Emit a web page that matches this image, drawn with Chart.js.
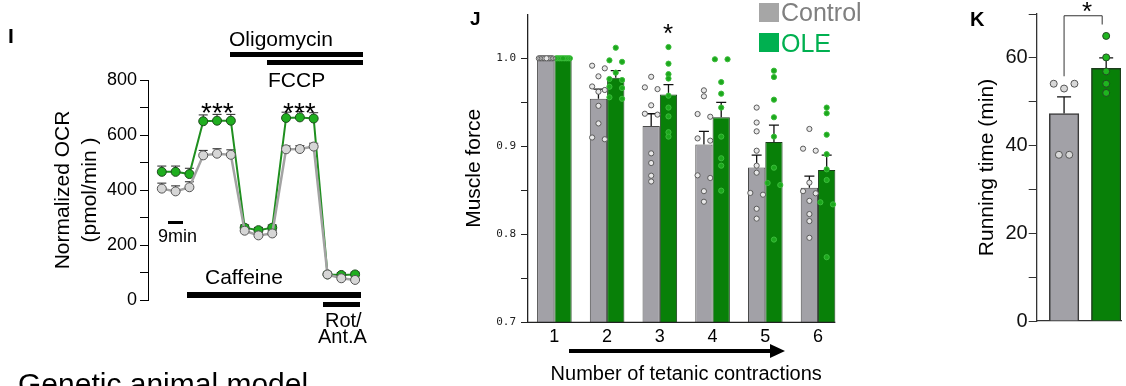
<!DOCTYPE html>
<html>
<head>
<meta charset="utf-8">
<script src="https://cdn.jsdelivr.net/npm/chart.js@4.4.0/dist/chart.umd.min.js"></script>
<style>
  html, body { margin: 0; padding: 0; background: #fff; }
  #fig { position: relative; width: 1126px; height: 386px; overflow: hidden;
         font-family: "Liberation Sans", Arial, sans-serif; color: #000; }
  #fig canvas { position: absolute; top: 0; }
  .t { position: absolute; white-space: nowrap; line-height: 1; }
  .b { position: absolute; background: #000; }
</style>
</head>
<body>
<div id="fig">
  <canvas id="chartI" width="380" height="386" style="left:0"></canvas>
  <canvas id="chartJ" width="420" height="386" style="left:440px"></canvas>
  <canvas id="chartJdots" width="420" height="386" style="left:440px"></canvas>
  <canvas id="chartK" width="186" height="386" style="left:940px"></canvas>

  <!-- panel I annotations -->
  <div class="t" style="left:8px;top:25px;font-size:21px;font-weight:bold">I</div>
  <div class="t" style="left:229px;top:28px;font-size:21px">Oligomycin</div>
  <div class="b" style="left:230px;top:52px;width:133px;height:5px"></div>
  <div class="b" style="left:267px;top:60px;width:96px;height:5px"></div>
  <div class="t" style="left:268px;top:69px;font-size:21px">FCCP</div>
  <div class="t" style="left:201px;top:99px;font-size:28px">***</div>
  <div class="t" style="left:283px;top:99px;font-size:28px">***</div>
  <div class="b" style="left:168px;top:221px;width:15px;height:3px"></div>
  <div class="t" style="left:158px;top:227px;font-size:18px">9min</div>
  <div class="t" style="left:205px;top:266px;font-size:21px">Caffeine</div>
  <div class="b" style="left:187px;top:292px;width:174px;height:6px"></div>
  <div class="b" style="left:323px;top:302px;width:37px;height:5px"></div>
  <div class="t" style="left:325px;top:310px;font-size:20px">Rot/</div>
  <div class="t" style="left:318px;top:326px;font-size:20px">Ant.A</div>
  <div class="t" style="left:18px;top:369px;font-size:30px">Genetic animal model</div>

  <!-- panel J annotations -->
  <div class="t" style="left:470px;top:9px;font-size:19px;font-weight:bold">J</div>
  <div class="t" style="left:663px;top:20px;font-size:26px">*</div>
  <div class="b" style="left:759px;top:3px;width:20px;height:19px;background:#a6a6a6"></div>
  <div class="t" style="left:781px;top:0px;font-size:25px;color:#808080">Control</div>
  <div class="b" style="left:759px;top:33px;width:20px;height:19px;background:#00b050"></div>
  <div class="t" style="left:781px;top:31px;font-size:25px;color:#00b050">OLE</div>
  <div class="b" style="left:569px;top:349px;width:202px;height:4px"></div>
  <div style="position:absolute;left:770px;top:344px;width:0;height:0;border-left:15px solid #000;border-top:7px solid transparent;border-bottom:7px solid transparent"></div>

  <!-- panel K annotations -->
  <div class="t" style="left:970px;top:9px;font-size:20px;font-weight:bold">K</div>
  <div class="t" style="left:1082px;top:-2px;font-size:26px">*</div>
</div>

<script>
// ---------- Panel I: OCR trace ----------
const ocrTime = [1, 2, 3, 4, 5, 6, 7, 8, 9, 10, 11, 12, 13, 14, 15];
const ocrOle = [466, 466, 458, 650, 652, 652, 263, 254, 263, 662, 664, 660, 93, 91, 93];
const ocrOleErr = [21, 21, 21, 23, 23, 23, 10, 10, 10, 21, 21, 21, 8, 8, 8];
const ocrCtrl = [405, 395, 410, 526, 532, 528, 252, 235, 242, 548, 549, 558, 93, 79, 73];
const ocrCtrlErr = [20, 20, 20, 18, 18, 18, 10, 10, 10, 12, 12, 12, 6, 6, 6];

// ---------- Panel J: muscle force ----------
const contractions = ['1', '2', '3', '4', '5', '6'];
const forceCtrl = [1.0, 0.954, 0.923, 0.902, 0.876, 0.853];
const forceCtrlErr = [0, 0.011, 0.014, 0.015, 0.014, 0.013];
const forceOle = [1.0, 0.978, 0.959, 0.933, 0.905, 0.873];
const forceOleErr = [0, 0.008, 0.011, 0.017, 0.019, 0.017];
const forceCtrlPts = [
  [1, 1, 1, 1, 1, 1, 1, 1, 1, 1],
  [0.9886, 0.9916, 0.9795, 0.968, 0.962, 0.964, 0.946, 0.926, 0.908, 0.910],
  [0.979, 0.967, 0.965, 0.9466, 0.936, 0.937, 0.892, 0.881, 0.8666, 0.860],
  [0.9636, 0.9568, 0.9336, 0.9367, 0.9064, 0.909, 0.864, 0.867, 0.849, 0.837],
  [0.944, 0.927, 0.917, 0.895, 0.878, 0.870, 0.845, 0.847, 0.829, 0.8178],
  [0.9197, 0.895, 0.8973, 0.8587, 0.8466, 0.849, 0.838, 0.823, 0.815, 0.796],
];
const forceOlePts = [
  [1, 1, 1, 1, 1, 1, 1, 1, 1],
  [1.012, 0.9977, 0.996, 0.9837, 0.9765, 0.9753, 0.9662, 0.9677, 0.954, 0.9557],
  [1.0128, 0.9939, 0.982, 0.977, 0.9575, 0.944, 0.934, 0.916, 0.911],
  [0.9989, 0.9989, 0.973, 0.9598, 0.944, 0.911, 0.8864, 0.878, 0.8496],
  [0.9859, 0.9787, 0.953, 0.933, 0.911, 0.8757, 0.8583, 0.856, 0.794],
  [0.944, 0.9375, 0.9132, 0.891, 0.8738, 0.8617, 0.8364, 0.834, 0.774],
];

// ---------- Panel K: running time ----------
const runGroups = ['Control', 'OLE'];
const runMean = [47.3, 57.6];
const runErr = [3.8, 2.4];
const runCtrlPts = [54.1, 53.0, 54.1, 37.9, 37.9];
const runOlePts = [65.0, 60.1, 56.9, 54.1, 52.0];

const FONT = '"Liberation Sans", Arial, sans-serif';
const GRAY_BAR = '#a2a1a7';
const GREEN_BAR = '#088008';

// spread dots with (nearly) equal values sideways, like a small beeswarm
function swarm(vals, thr, pairStep, multiStep, maxSpread) {
  const idx = vals.map((v, i) => i).sort((a, b) => vals[b] - vals[a]);
  const off = new Array(vals.length).fill(0);
  let i = 0;
  while (i < idx.length) {
    let j = i + 1;
    while (j < idx.length && vals[idx[j - 1]] - vals[idx[j]] < thr) j++;
    const cl = idx.slice(i, j);
    const n = cl.length;
    if (n === 2) {
      off[cl[0]] = -pairStep;
      off[cl[1]] = pairStep;
    } else if (n > 2) {
      const step = Math.min(multiStep, maxSpread / (n - 1));
      const pos = new Array(n);
      let l = 0, r = n - 1;
      cl.forEach((k, m) => { if (m % 2 === 0) pos[l++] = k; else pos[r--] = k; });
      pos.forEach((k, m) => { off[k] = (m - (n - 1) / 2) * step; });
    }
    i = j;
  }
  return off;
}

Chart.defaults.font.family = FONT;
Chart.defaults.color = '#000';
Chart.defaults.animation = false;
Chart.defaults.plugins.legend.display = false;
Chart.defaults.plugins.tooltip.enabled = false;

// ================= Chart I =================
const ocrErrors = {
  id: 'ocrErrors',
  beforeDatasetsDraw(chart) {
    const ctx = chart.ctx, y = chart.scales.y;
    [[0, ocrCtrl, ocrCtrlErr], [1, ocrOle, ocrOleErr]].forEach(([di, vals, errs]) => {
      chart.getDatasetMeta(di).data.forEach((pt, i) => {
        const top = y.getPixelForValue(vals[i] + errs[i]);
        ctx.save();
        ctx.strokeStyle = '#222';
        ctx.lineWidth = 1;
        ctx.beginPath();
        ctx.moveTo(pt.x, pt.y); ctx.lineTo(pt.x, top);
        ctx.moveTo(pt.x - 4.5, top); ctx.lineTo(pt.x + 4.5, top);
        ctx.stroke();
        ctx.restore();
      });
    });
  }
};

new Chart(document.getElementById('chartI'), {
  type: 'line',
  data: {
    datasets: [
      {
        label: 'Control',
        data: ocrTime.map((t, i) => ({ x: t, y: ocrCtrl[i] })),
        borderColor: '#a3a3a3', borderWidth: 2.5,
        pointRadius: 4.5, pointBackgroundColor: '#d6d6d6',
        pointBorderColor: '#555', pointBorderWidth: 1, order: 0,
      },
      {
        label: 'OLE',
        data: ocrTime.map((t, i) => ({ x: t, y: ocrOle[i] })),
        borderColor: '#1f8f1f', borderWidth: 2,
        pointRadius: 4.5, pointBackgroundColor: '#1fae1f',
        pointBorderColor: '#1e4a1e', pointBorderWidth: 1, order: 1,
      },
    ],
  },
  options: {
    responsive: false,
    layout: { padding: { top: 80, bottom: 86, left: 0, right: 18 } },
    scales: {
      x: { type: 'linear', min: 0, max: 15.5, display: false },
      y: {
        min: 0, max: 800,
        afterFit: (s) => { s.width = 148; },
        ticks: { stepSize: 100, padding: 3, font: { size: 18 }, color: '#000',
                 callback: (v) => (v % 200 === 0 ? v : '') },
        grid: { drawOnChartArea: false, drawTicks: true, tickLength: 8, color: '#000' },
        border: { display: true, color: '#000', width: 1 },
        title: { display: true, text: ['Normalized OCR', '(pmol/min )'],
                 font: { size: 21, lineHeight: 1.29 }, padding: { top: 50, bottom: 0 } },
      },
    },
  },
  plugins: [ocrErrors],
});

// ================= Chart J =================
const CAT_PCT = 0.656;
const barShift = CAT_PCT / 4;
const J_PAD = { top: 14.3, bottom: 0, left: 0, right: 15.6 };
const J_AXIS_W = 88, J_AXIS_H = 63.7;

const ctrlDots = [], oleDots = [];
forceCtrlPts.forEach((vals, g) => {
  const off = swarm(vals, 0.0045, 0.12, 0.12, 0.26);
  vals.forEach((v, k) => ctrlDots.push({ x: g - barShift + off[k], y: v }));
});
forceOlePts.forEach((vals, g) => {
  const off = swarm(vals, 0.0045, 0.12, 0.12, 0.26);
  vals.forEach((v, k) => oleDots.push({ x: g + barShift + off[k], y: v }));
});

const forceExtras = {
  id: 'forceExtras',
  beforeDatasetsDraw(chart) {
    const ctx = chart.ctx, y = chart.scales.y;
    [[0, forceCtrl, forceCtrlErr], [1, forceOle, forceOleErr]].forEach(([di, vals, errs]) => {
      chart.getDatasetMeta(di).data.forEach((bar, i) => {
        if (!errs[i]) return;
        const top = y.getPixelForValue(vals[i] + errs[i]);
        ctx.save();
        ctx.strokeStyle = '#111';
        ctx.lineWidth = 1.3;
        ctx.beginPath();
        ctx.moveTo(bar.x, bar.y); ctx.lineTo(bar.x, top);
        ctx.moveTo(bar.x - 5, top); ctx.lineTo(bar.x + 5, top);
        ctx.stroke();
        ctx.restore();
      });
    });
  },
  afterDatasetsDraw(chart) {
    // x axis baseline stops at the last bar
    const ctx = chart.ctx, area = chart.chartArea;
    const bars = chart.getDatasetMeta(1).data;
    const last = bars[bars.length - 1];
    ctx.save();
    ctx.strokeStyle = '#222';
    ctx.lineWidth = 1.3;
    ctx.beginPath();
    ctx.moveTo(area.left, area.bottom);
    ctx.lineTo(last.x + last.width / 2, area.bottom);
    ctx.stroke();
    ctx.restore();
  }
};

new Chart(document.getElementById('chartJ'), {
  type: 'bar',
  data: {
    labels: contractions,
    datasets: [
      { label: 'Control', data: forceCtrl, backgroundColor: GRAY_BAR,
        borderColor: '#4a4a4a', borderWidth: 1 },
      { label: 'OLE', data: forceOle, backgroundColor: GREEN_BAR,
        borderColor: '#1b3d1b', borderWidth: 1 },
    ],
  },
  options: {
    responsive: false,
    layout: { padding: J_PAD },
    categoryPercentage: CAT_PCT,
    barPercentage: 1.0,
    scales: {
      x: {
        afterFit: (s) => { s.height = J_AXIS_H; },
        grid: { display: false },
        border: { display: false },
        ticks: { font: { size: 18, lineHeight: 1 }, color: '#000', padding: -2 },
        title: { display: true, text: 'Number of tetanic contractions',
                 font: { size: 20 }, padding: { top: 0, bottom: 0 } },
      },
      y: {
        min: 0.7, max: 1.05,
        afterFit: (s) => { s.width = J_AXIS_W; },
        ticks: {
          stepSize: 0.05, padding: 5, color: '#222',
          font: { family: '"DejaVu Sans Mono", monospace', size: 11 },
          callback: (v) => (Math.abs(v * 10 - Math.round(v * 10)) < 1e-6 && v < 1.01 ? v.toFixed(1) : ''),
        },
        grid: { drawOnChartArea: false, drawTicks: true, tickLength: 7,
                tickColor: (c) => (c.tick && c.tick.value > 1.01 ? 'rgba(0,0,0,0)' : '#222') },
        border: { display: true, color: '#222', width: 1.3 },
        title: { display: true, text: 'Muscle force', font: { size: 21 },
                 padding: { top: 22, bottom: 0 } },
      },
    },
  },
  plugins: [forceExtras],
});

// individual animals, on a transparent chart with the same plot area
new Chart(document.getElementById('chartJdots'), {
  type: 'scatter',
  data: {
    datasets: [
      { label: 'Control', data: ctrlDots,
        pointRadius: 2.6, pointBackgroundColor: '#e8e8e8',
        pointBorderColor: '#5a5a5a', pointBorderWidth: 1 },
      { label: 'OLE', data: oleDots,
        pointRadius: 2.6, pointBackgroundColor: '#1ca81c',
        pointBorderColor: '#3cbc3c', pointBorderWidth: 1 },
    ],
  },
  options: {
    responsive: false,
    layout: { padding: J_PAD },
    scales: {
      x: { type: 'linear', min: -0.5, max: 5.5, offset: false,
           afterFit: (s) => { s.height = J_AXIS_H; },
           ticks: { display: false }, grid: { display: false }, border: { display: false } },
      y: { min: 0.7, max: 1.05,
           afterFit: (s) => { s.width = J_AXIS_W; },
           ticks: { display: false }, grid: { display: false }, border: { display: false } },
    },
  },
});

// ================= Chart K =================
const ctrlRunOff = swarm(runCtrlPts, 1.6, 0.123, 0.246, 0.6);
const oleRunOff = swarm(runOlePts, 1.6, 0.123, 0.246, 0.6);

const runExtras = {
  id: 'runExtras',
  beforeDatasetsDraw(chart) {
    const ctx = chart.ctx, x = chart.scales.x, y = chart.scales.y;
    ctx.save();
    ctx.strokeStyle = '#111';
    ctx.lineWidth = 1.3;
    chart.getDatasetMeta(0).data.forEach((bar, i) => {
      const top = y.getPixelForValue(runMean[i] + runErr[i]);
      ctx.beginPath();
      ctx.moveTo(bar.x, bar.y); ctx.lineTo(bar.x, top);
      ctx.moveTo(bar.x - 7, top); ctx.lineTo(bar.x + 7, top);
      ctx.stroke();
    });
    // significance bracket
    const x1 = x.getPixelForValue(1), x2 = x.getPixelForValue(2);
    const yTop = y.getPixelForValue(69.6);
    ctx.lineWidth = 1;
    ctx.strokeStyle = '#333';
    ctx.beginPath();
    ctx.moveTo(x1, y.getPixelForValue(55.8));
    ctx.lineTo(x1, yTop);
    ctx.lineTo(x2 - 4, yTop);
    ctx.lineTo(x2 - 4, y.getPixelForValue(67.6));
    ctx.stroke();
    ctx.restore();
  }
};

new Chart(document.getElementById('chartK'), {
  type: 'bar',
  data: {
    datasets: [
      { label: 'Running time', order: 2,
        data: runMean.map((m, i) => ({ x: i + 1, y: m })),
        backgroundColor: [GRAY_BAR, GREEN_BAR], borderColor: ['#3a3a3a', '#1b3d1b'],
        borderWidth: 1.5, barThickness: 29.5 },
      { type: 'scatter', label: runGroups[0], order: 1,
        data: runCtrlPts.map((v, k) => ({ x: 1 + ctrlRunOff[k], y: v })),
        pointRadius: 3.5, pointBackgroundColor: '#d8d8d8',
        pointBorderColor: '#555', pointBorderWidth: 1 },
      { type: 'scatter', label: runGroups[1], order: 1,
        data: runOlePts.map((v, k) => ({ x: 2 + oleRunOff[k], y: v })),
        pointRadius: 3.5, pointBackgroundColor: '#1fb51f',
        pointBorderColor: '#234a23', pointBorderWidth: 1 },
    ],
  },
  options: {
    responsive: false,
    layout: { padding: { top: 14, bottom: 0, left: 0, right: 0 } },
    scales: {
      x: {
        type: 'linear', min: 0.35, max: 2.352, offset: false,
        afterFit: (s) => { s.height = 65; },
        ticks: { display: false },
        grid: { display: false },
        border: { display: true, color: '#333', width: 1.3 },
      },
      y: {
        min: 0, max: 70,
        afterFit: (s) => { s.width = 96.7; },
        ticks: { stepSize: 10, padding: 1, font: { size: 20 }, color: '#111',
                 callback: (v) => (v % 20 === 0 ? v : '') },
        grid: { drawOnChartArea: false, drawTicks: true, tickLength: 8, color: '#333' },
        border: { display: true, color: '#333', width: 1.3 },
        title: { display: true, text: 'Running time (min)', font: { size: 21 },
                 padding: { top: 35, bottom: 0 } },
      },
    },
  },
  plugins: [runExtras],
});
</script>
</body>
</html>
